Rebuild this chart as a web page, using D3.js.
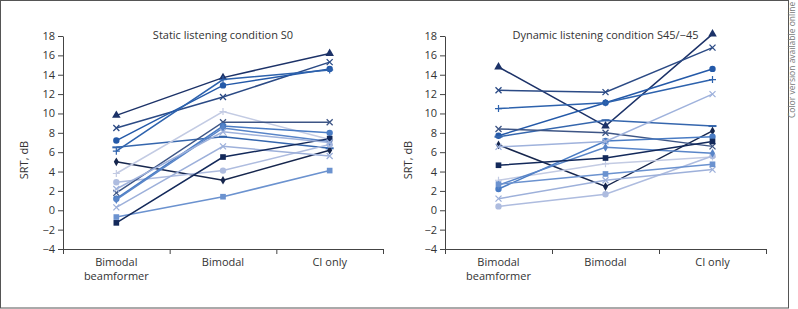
<!DOCTYPE html>
<html>
<head>
<meta charset="utf-8">
<script src="https://cdn.jsdelivr.net/npm/d3@7"></script>
<style>
  body { margin: 0; background: #fff; }
  text { font-family: "Open Sans", "Noto Sans", sans-serif; fill: #333; }
  .axis path, .axis line { stroke: #444; }
</style>
</head>
<body>
<div id="chart"></div>
<script>
// categories (x axis)
const categories = ["Bimodal beamformer", "Bimodal", "CI only"];
const yTicks = [-4, -2, 0, 2, 4, 6, 8, 10, 12, 14, 16, 18];

// one entry per subject: marker + colour
const markers = ["triangle", "cross", "circle", "plus", "dash", "diamond", "plus", "circle",
                 "cross", "circle", "diamond", "cross", "square", "square", "cross"];
const colors = ["#1c3268", "#2b4a85", "#2459a8", "#2d62ad", "#3566ad", "#16264d", "#c3cbe3", "#aebcdf",
                "#3d5585", "#4a7cc4", "#5985c8", "#9db0da", "#6b92cf", "#13295a", "#9fb2dc"];

// SRT values, static condition S0
const staticSRT = [
  [9.8, 13.7, 16.2], [8.5, 11.7, 15.3], [7.2, 12.9, 14.6], [6.1, 13.5, 14.5],
  [6.5, 7.6, 6.4], [5.0, 3.1, 6.2], [3.8, 10.2, 7.3], [2.9, 4.1, 6.8],
  [1.8, 9.1, 9.1], [1.2, 8.7, 8.0], [1.1, 8.5, 7.1], [0.3, 6.6, 5.6],
  [-0.7, 1.4, 4.1], [-1.3, 5.5, 7.4], [2.2, 8.1, 7.0]
];
// SRT values, dynamic condition S45/-45
const dynamicSRT = [
  [14.8, 8.7, 18.2], [12.4, 12.2, 16.8], [7.7, 11.1, 14.6], [10.5, 11.1, 13.5],
  [7.6, 9.3, 8.7], [6.75, 2.45, 8.2], [3.1, 4.8, 5.5], [0.4, 1.65, 5.6],
  [8.4, 8.0, 6.6], [2.2, 7.15, 7.6], [2.6, 6.5, 5.9], [1.2, 3.1, 4.2],
  [2.7, 3.75, 4.75], [4.65, 5.4, 7.1], [6.55, 7.1, 12.0]
];

const W = 798, H = 309;
const svg = d3.select("#chart").append("svg").attr("width", W).attr("height", H);

// frame
svg.append("rect").attr("x", 0.5).attr("y", 0.5).attr("width", 788).attr("height", 307.5)
  .attr("fill", "none").attr("stroke", "#555").attr("stroke-width", 1);
svg.append("text")
  .attr("transform", "translate(795, 118) rotate(-90)")
  .attr("text-anchor", "start")
  .style("font-size", "8.5px").style("fill", "#777")
  .text("Color version available online");

const y = d3.scaleLinear().domain([-4, 18]).range([249, 36]);

function drawPanel(left, right, title, data, labelX) {
  const xb = d3.scaleLinear().domain([0, 3]).range([left, right]);
  const g = svg.append("g");

  g.append("g").attr("class", "axis")
    .attr("transform", `translate(${left},0)`)
    .call(d3.axisLeft(y).tickValues(yTicks).tickSize(5).tickSizeOuter(0))
    .call(a => a.selectAll("text").style("font-size", "11px").attr("fill", "#333"));

  g.append("g").attr("class", "axis")
    .attr("transform", `translate(0,${y(-4)})`)
    .call(d3.axisBottom(xb).tickValues([0, 1, 2, 3]).tickFormat("").tickSize(5).tickSizeOuter(0));

  categories.forEach((c, i) => {
    const words = c === "Bimodal beamformer" ? ["Bimodal", "beamformer"] : [c];
    words.forEach((w, k) => {
      g.append("text").attr("text-anchor", "middle").style("font-size", "11px")
        .attr("x", xb(i + 0.5)).attr("y", 266 + k * 13.5).text(w);
    });
  });

  g.append("text").attr("text-anchor", "middle").style("font-size", "11px")
    .attr("transform", `translate(${labelX},160) rotate(-90)`).text("SRT, dB");

  g.append("text").attr("text-anchor", "middle").style("font-size", "11px")
    .attr("x", xb(1.5)).attr("y", 39).text(title);

  const line = d3.line().x((d, i) => xb(i + 0.5)).y(d => y(d));

  data.forEach((vals, s) => {
    g.append("path").datum(vals)
      .attr("d", line).attr("fill", "none")
      .attr("stroke", colors[s]).attr("stroke-width", 1.5);
    vals.forEach((v, i) => drawMarker(g, markers[s], xb(i + 0.5), y(v), colors[s]));
  });
}

function drawMarker(g, m, cx, cy, col) {
  const symMap = { triangle: d3.symbolTriangle, circle: d3.symbolCircle, square: d3.symbolSquare,
                   diamond: d3.symbolDiamond };
  if (symMap[m]) {
    const size = m === "diamond" ? 22 : 32;
    g.append("path").attr("d", d3.symbol().type(symMap[m]).size(size)())
      .attr("transform", `translate(${cx},${cy})`).attr("fill", col);
  } else if (m === "cross") {
    g.append("path").attr("d", "M-3,-3L3,3M-3,3L3,-3")
      .attr("transform", `translate(${cx},${cy})`).attr("stroke", col).attr("stroke-width", 1.3);
  } else if (m === "plus") {
    g.append("path").attr("d", "M-3.5,0L3.5,0M0,-3.5L0,3.5")
      .attr("transform", `translate(${cx},${cy})`).attr("stroke", col).attr("stroke-width", 1.2);
  } else if (m === "dash") {
    g.append("path").attr("d", "M-4,0L4,0")
      .attr("transform", `translate(${cx},${cy})`).attr("stroke", col).attr("stroke-width", 2);
  }
}

drawPanel(63, 383, "Static listening condition S0", staticSRT, 28);
drawPanel(445, 766, "Dynamic listening condition S45/\u221245", dynamicSRT, 412);
</script>
</body>
</html>
